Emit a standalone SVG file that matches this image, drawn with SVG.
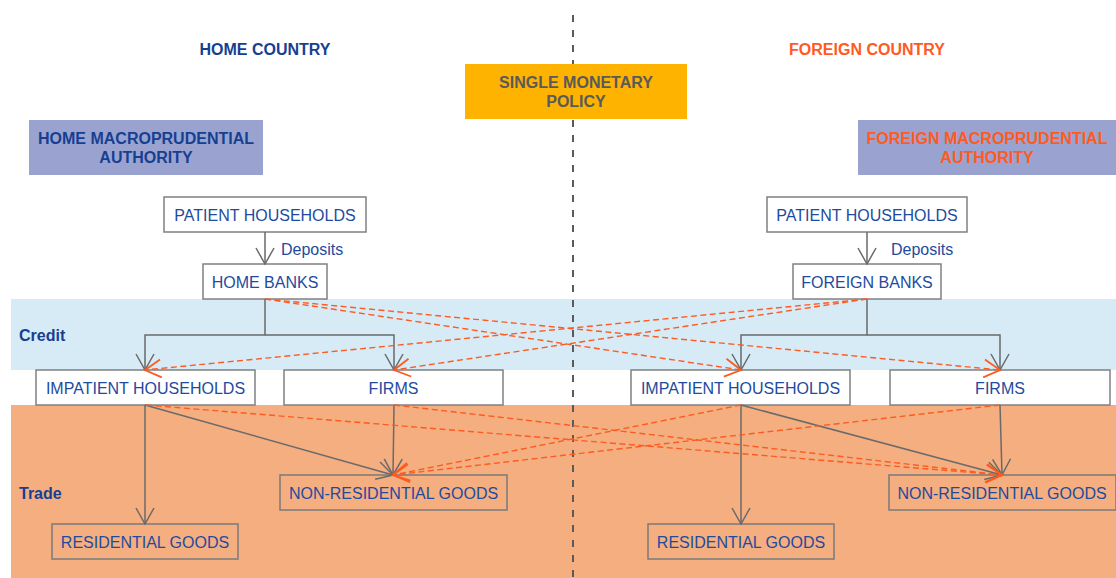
<svg xmlns="http://www.w3.org/2000/svg" width="1116" height="578" viewBox="0 0 1116 578">
<defs>
<style>
text{font-family:"Liberation Sans",Arial,sans-serif;font-size:16px}
.hdr{font-weight:bold;text-anchor:middle}
.home{fill:#173F91}
.for{fill:#FF5A1F}
.lbl{fill:#1E4B9E}
.nt{fill:#1E4B9E;text-anchor:middle}
.box{fill:#ffffff;stroke:#808080;stroke-width:1.5}
.tbox{fill:none;stroke:#7a7a7a;stroke-width:1.5}
.sol{fill:none;stroke:#6a6a6a;stroke-width:1.5;marker-end:url(#ag)}
.dsh{fill:none;stroke:#FF5A1F;stroke-width:1.4;stroke-dasharray:6 3.5;marker-end:url(#ao)}
</style>
<marker id="ag" markerUnits="userSpaceOnUse" markerWidth="40" markerHeight="40" viewBox="-20 -20 40 40" refX="0" refY="0" orient="auto">
<path d="M-16,-9 L0,0 L-16,9" fill="none" stroke="#6a6a6a" stroke-width="1.5"/>
</marker>
<marker id="ao" markerUnits="userSpaceOnUse" markerWidth="40" markerHeight="40" viewBox="-20 -20 40 40" refX="0" refY="0" orient="auto">
<path d="M-16,-9 L0,0 L-16,9" fill="none" stroke="#FF5A1F" stroke-width="1.8"/>
</marker>
</defs>
<rect width="1116" height="578" fill="#ffffff"/>
<g id="bands">
<rect x="11" y="299" width="1105" height="71" fill="#D7EBF6"/>
<rect x="11" y="405" width="1105" height="173" fill="#F4AE80"/>
<text x="19" y="341" font-weight="bold" class="home">Credit</text>
<text x="19" y="499" font-weight="bold" class="home">Trade</text>
</g>
<line id="divider" x1="573" y1="15" x2="573" y2="578" stroke="#5a5a5a" stroke-width="2" stroke-dasharray="7 8"/>
<g id="headers">
<text class="hdr home" x="265" y="55">HOME COUNTRY</text>
<text class="hdr for" x="867" y="55">FOREIGN COUNTRY</text>
</g>
<g id="monetary">
<rect x="465" y="64" width="222" height="55" fill="#FEB300"/>
<text class="hdr" fill="#5a5a5a" x="576" y="88">SINGLE MONETARY</text>
<text class="hdr" fill="#5a5a5a" x="576" y="107">POLICY</text>
</g>
<g id="home-macro">
<rect x="29" y="120" width="234" height="55" fill="#9AA3D0"/>
<text class="hdr home" x="146" y="144">HOME MACROPRUDENTIAL</text>
<text class="hdr home" x="146" y="163">AUTHORITY</text>
</g>
<g id="foreign-macro">
<rect x="858" y="120" width="258" height="55" fill="#9AA3D0"/>
<text class="hdr for" x="987" y="144">FOREIGN MACROPRUDENTIAL</text>
<text class="hdr for" x="987" y="163">AUTHORITY</text>
</g>
<g id="home-patient"><rect class="box" x="164" y="197" width="202" height="35"/><text class="nt" x="265" y="220.5">PATIENT HOUSEHOLDS</text></g>
<g id="home-banks"><rect class="box" x="203" y="264" width="124" height="35"/><text class="nt" x="265" y="287.5">HOME BANKS</text></g>
<g id="home-impatient"><rect class="box" x="36" y="370" width="219" height="35"/><text class="nt" x="145.5" y="393.5">IMPATIENT HOUSEHOLDS</text></g>
<g id="home-firms"><rect class="box" x="284" y="370" width="219" height="35"/><text class="nt" x="393.5" y="393.5">FIRMS</text></g>
<g id="home-nonres"><rect class="tbox" x="280" y="475" width="227" height="35"/><text class="nt" x="393.5" y="498.5">NON-RESIDENTIAL GOODS</text></g>
<g id="home-res"><rect class="tbox" x="52" y="524" width="186" height="35"/><text class="nt" x="145" y="547.5">RESIDENTIAL GOODS</text></g>
<g id="foreign-patient"><rect class="box" x="767" y="197" width="200" height="35"/><text class="nt" x="867" y="220.5">PATIENT HOUSEHOLDS</text></g>
<g id="foreign-banks"><rect class="box" x="793" y="264" width="148" height="35"/><text class="nt" x="867" y="287.5">FOREIGN BANKS</text></g>
<g id="foreign-impatient"><rect class="box" x="631" y="370" width="219" height="35"/><text class="nt" x="740.5" y="393.5">IMPATIENT HOUSEHOLDS</text></g>
<g id="foreign-firms"><rect class="box" x="890" y="370" width="220" height="35"/><text class="nt" x="1000" y="393.5">FIRMS</text></g>
<g id="foreign-nonres"><rect class="tbox" x="889" y="475" width="227" height="35"/><text class="nt" x="1002" y="498.5">NON-RESIDENTIAL GOODS</text></g>
<g id="foreign-res"><rect class="tbox" x="648" y="524" width="186" height="35"/><text class="nt" x="741" y="547.5">RESIDENTIAL GOODS</text></g>
<g id="connectors">
<path class="sol" d="M265,232 V264"/>
<path class="sol" d="M265,299 V335 H145 V370"/>
<path class="sol" d="M265,335 H394 V370"/>
<path class="sol" d="M145,405 V524"/>
<path class="sol" d="M145,405 L393,475"/>
<path class="sol" d="M394,405 L393,475"/>
<path class="sol" d="M867,232 V264"/>
<path class="sol" d="M867,299 V335 H741 V370"/>
<path class="sol" d="M867,335 H1000 V370"/>
<path class="sol" d="M741,405 V524"/>
<path class="sol" d="M741,405 L1002,475"/>
<path class="sol" d="M1000,405 L1002,475"/>
<path class="dsh" d="M265,299 L741,370"/>
<path class="dsh" d="M265,299 L1000,370"/>
<path class="dsh" d="M867,299 L145,370"/>
<path class="dsh" d="M867,299 L394,370"/>
<path class="dsh" d="M146,405 L1002,475"/>
<path class="dsh" d="M394,405 L1002,475"/>
<path class="dsh" d="M741,405 L393,475"/>
<path class="dsh" d="M1000,405 L393,475"/>
<text class="lbl" x="281" y="255">Deposits</text>
<text class="lbl" x="891" y="255">Deposits</text>
</g>
</svg>
